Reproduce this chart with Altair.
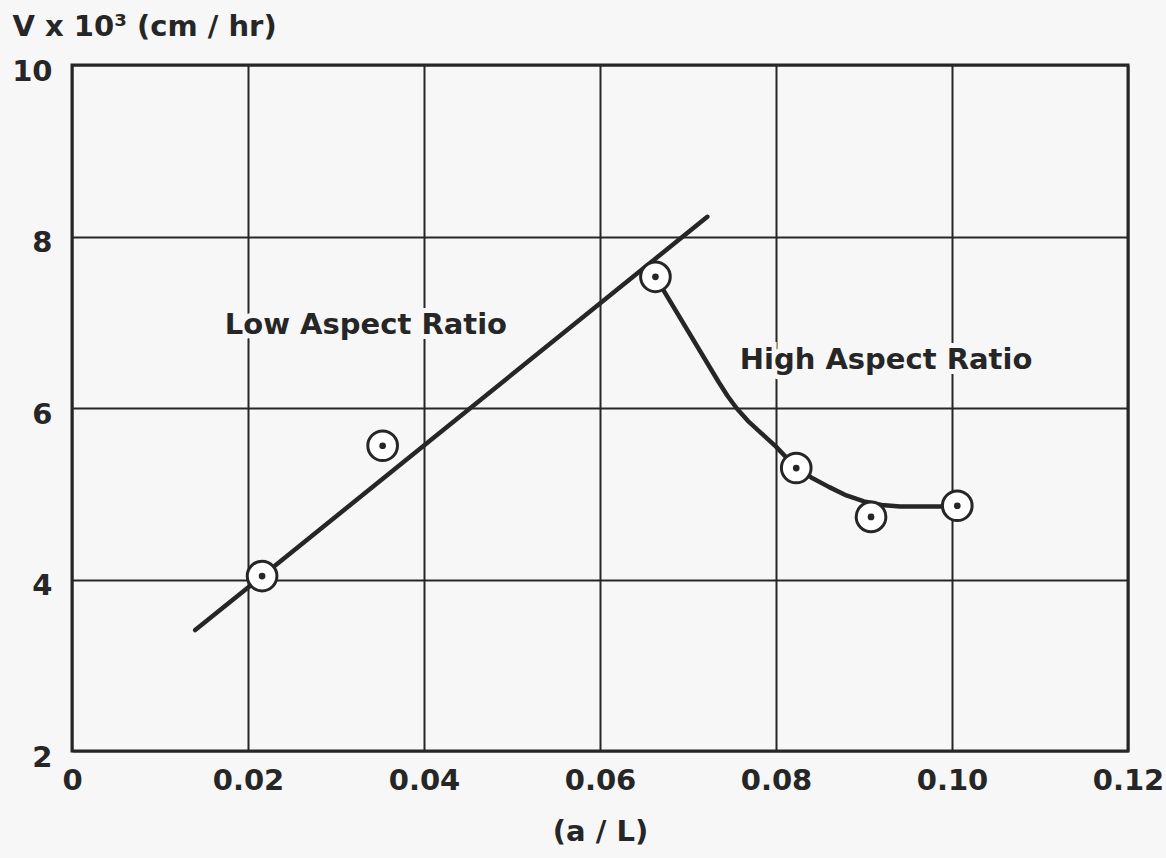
import altair as alt
import pandas as pd

# Measured points (a/L, V x 10^3)
pt_x = [0.0216, 0.0353, 0.0663, 0.0823, 0.0908, 0.1006]
pt_y = [4.04, 5.56, 7.53, 5.30, 4.73, 4.86]

# Low aspect ratio straight fit line
low_x = [0.0140, 0.0722]
low_y = [3.41, 8.23]

# High aspect ratio curve (traced)
high_x = [0.0663, 0.0735, 0.0745, 0.0755, 0.0768, 0.0786, 0.0800, 0.0812, 0.0823,
          0.0840, 0.0860, 0.0880, 0.0900, 0.0920, 0.0941, 0.0986, 0.1006]
high_y = [7.53, 6.30, 6.14, 6.00, 5.85, 5.68, 5.55, 5.42, 5.30,
          5.19, 5.08, 4.98, 4.91, 4.87, 4.85, 4.85, 4.86]

lbl_text = ["Low Aspect Ratio", "High Aspect Ratio"]
lbl_x = [0.0334, 0.0925]
lbl_y = [6.97, 6.56]

x_ticks = [0, 0.02, 0.04, 0.06, 0.08, 0.10, 0.12]
y_ticks = [2, 4, 6, 8, 10]

INK = "#262626"
BG = "#f7f7f7"
FONT = "DejaVu Sans"
FS = 29

pts = pd.DataFrame({"x": pt_x, "y": pt_y})
low = pd.DataFrame({"x": low_x, "y": low_y})
high = pd.DataFrame({"x": high_x, "y": high_y})
lbl = pd.DataFrame({"x": lbl_x, "y": lbl_y, "t": lbl_text})

xs = alt.Scale(domain=[0, 0.12], nice=False, zero=False)
ys = alt.Scale(domain=[2, 10], nice=False, zero=False)

xax = alt.Axis(values=x_ticks, title="(a / L)",
               labelExpr="datum.value == 0 ? '0' : format(datum.value, '.2f')",
               grid=True, ticks=False, domain=False, labelPadding=15,
               labelFlush=False, titlePadding=22)
yax = alt.Axis(values=y_ticks, title="V x 10³ (cm / hr)", format="d", grid=True,
               ticks=False, domain=False, labelPadding=20, labelFlush=False,
               labelOffset=6, titleAngle=0, titleAlign="left",
               titleBaseline="alphabetic", titleX=-60, titleY=-30)

base_x = alt.X("x:Q", scale=xs, axis=xax)
base_y = alt.Y("y:Q", scale=ys, axis=yax)

low_line = alt.Chart(low).mark_line(color=INK, strokeWidth=4.5, strokeCap="round").encode(
    x=base_x, y=base_y)
high_line = alt.Chart(high).mark_line(color=INK, strokeWidth=4.5, strokeCap="round",
                                      strokeJoin="round",
                                      interpolate="linear").encode(x="x:Q", y="y:Q")
rings = alt.Chart(pts).mark_point(shape="circle", size=880, filled=False, fill="white",
                                  fillOpacity=1, stroke=INK, strokeWidth=3,
                                  opacity=1).encode(x="x:Q", y="y:Q")
dots = alt.Chart(pts).mark_point(shape="circle", size=45, filled=True, color=INK,
                                 opacity=1).encode(x="x:Q", y="y:Q")
halo = alt.Chart(lbl).mark_text(font=FONT, fontWeight="bold", fontSize=FS, stroke=BG,
                                strokeWidth=10, color=BG).encode(x="x:Q", y="y:Q", text="t:N")
labels = alt.Chart(lbl).mark_text(font=FONT, fontWeight="bold", fontSize=FS,
                                  color=INK).encode(x="x:Q", y="y:Q", text="t:N")

chart = alt.layer(low_line, high_line, rings, dots, halo, labels).properties(
    width=1056, height=686,
    autosize=alt.AutoSizeParams(type="none"),
    padding={"left": 72, "top": 65, "right": 38, "bottom": 107},
    background=BG,
).configure_view(stroke=INK, strokeWidth=3, fill=BG).configure_axis(
    gridColor=INK, gridWidth=2, gridOpacity=1,
    labelFont=FONT, labelFontWeight="bold", labelFontSize=FS, labelColor=INK,
    titleFont=FONT, titleFontWeight="bold", titleFontSize=FS, titleColor=INK,
)

chart.save("out.html", embed_options={"renderer": "svg", "actions": False})
